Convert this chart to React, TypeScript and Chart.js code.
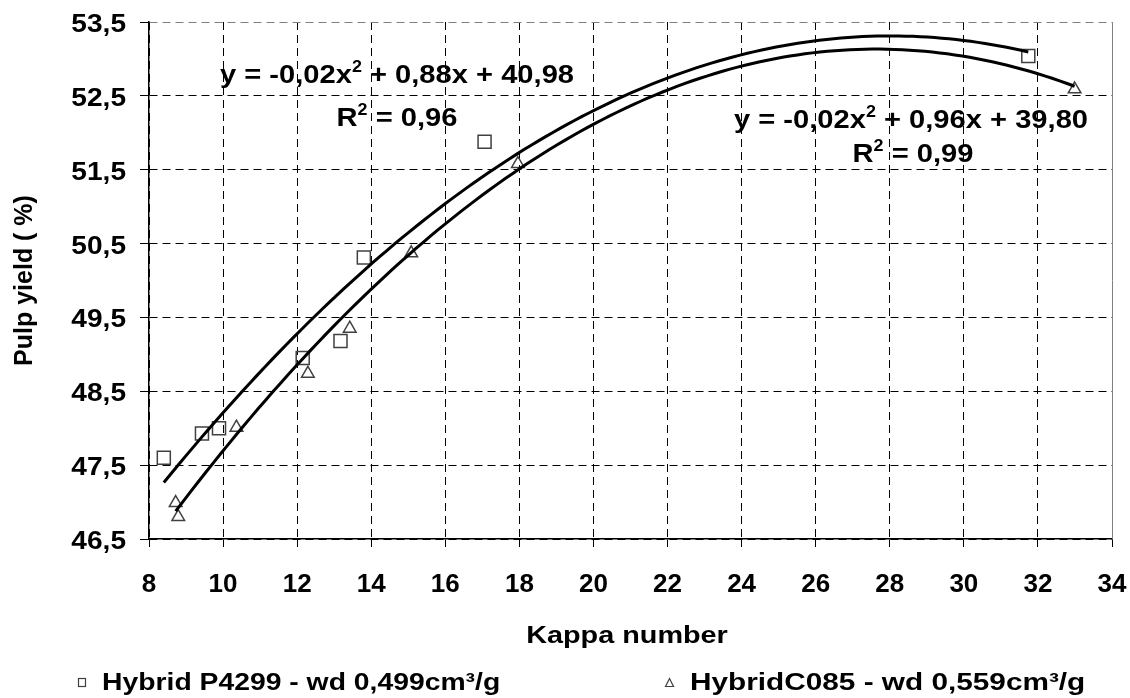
import React, { useEffect, useRef } from 'react';
import { Chart, registerables } from 'chart.js';

Chart.register(...registerables);

// ---- Data ----
const seriesNames = ['Hybrid P4299 - wd 0,499cm³/g', 'HybridC085 - wd 0,559cm³/g'];
const p4299Kappa = [8.4, 9.43, 9.89, 12.15, 13.17, 13.8, 17.06, 31.74];
const p4299Yield = [47.6, 47.93, 48.0, 48.95, 49.18, 50.31, 51.88, 53.04];
const c085Kappa = [8.72, 8.79, 10.36, 12.29, 13.42, 15.08, 17.96, 32.99];
const c085Yield = [46.99, 46.8, 48.01, 48.74, 49.35, 50.37, 51.58, 52.59];

// polynomial trendline coefficients [a, b, c] (y = a·x² + b·x + c)
const p4299Trend = [-0.0157, 0.88, 40.98];
const c085Trend = [-0.0175, 0.967, 39.775];

const xTickValues = [8, 10, 12, 14, 16, 18, 20, 22, 24, 26, 28, 30, 32, 34];
const xTickLabels = ['8', '10', '12', '14', '16', '18', '20', '22', '24', '26', '28', '30', '32', '34'];
const yTickValues = [46.5, 47.5, 48.5, 49.5, 50.5, 51.5, 52.5, 53.5];
const yTickLabels = ['46,5', '47,5', '48,5', '49,5', '50,5', '51,5', '52,5', '53,5'];

const eqP4299 = ['y = -0,02x', '2', ' + 0,88x + 40,98'];
const r2P4299 = ['R', '2', ' = 0,96'];
const eqC085 = ['y = -0,02x', '2', ' + 0,96x + 39,80'];
const r2C085 = ['R', '2', ' = 0,99'];

const xTitle = 'Kappa number';
const yTitle = 'Pulp yield ( %)';

function trendPoints(coef: number[], xs: number[]) {
  const [a, b, c] = coef;
  const lo = Math.min(...xs);
  const hi = Math.max(...xs);
  const n = 120;
  const pts: { x: number; y: number }[] = [];
  for (let i = 0; i <= n; i++) {
    const x = lo + ((hi - lo) * i) / n;
    pts.push({ x, y: a * x * x + b * x + c });
  }
  return pts;
}

const FONT = '"Liberation Sans", Arial, sans-serif';

function drawText(
  ctx: CanvasRenderingContext2D,
  text: string,
  x: number,
  y: number,
  align: CanvasTextAlign,
  font: string,
  sx: number
) {
  ctx.save();
  ctx.font = font;
  ctx.textAlign = align;
  ctx.textBaseline = 'alphabetic';
  ctx.fillStyle = '#000';
  ctx.translate(x, y);
  ctx.scale(sx, 1);
  ctx.fillText(text, 0, 0);
  ctx.restore();
}

const overlayPlugin = {
  id: 'overlay',
  afterDraw(chart: any) {
    const ctx = chart.ctx as CanvasRenderingContext2D;
    const area = chart.chartArea;
    const xs = chart.scales.x;
    const ys = chart.scales.y;
    ctx.save();
    // right plot border
    ctx.strokeStyle = '#808080';
    ctx.lineWidth = 1;
    ctx.setLineDash([]);
    ctx.beginPath();
    ctx.moveTo(area.right + 0.5, area.top);
    ctx.lineTo(area.right + 0.5, area.bottom);
    ctx.stroke();

    // tick labels
    const tickFont = `bold 26px ${FONT}`;
    yTickValues.forEach((v, i) => {
      drawText(ctx, yTickLabels[i], 126, ys.getPixelForValue(v) + 10, 'right', tickFont, 1.08);
    });
    xTickValues.forEach((v, i) => {
      drawText(ctx, xTickLabels[i], xs.getPixelForValue(v), 591.5, 'center', tickFont, 1.0);
    });

    // x axis title
    drawText(ctx, xTitle, 627, 643, 'center', `bold 24px ${FONT}`, 1.2);

    // trendline equations
    const drawParts = (parts: string[], cx: number, baseline: number) => {
      const sx = 1.12;
      const main = `bold 26px ${FONT}`;
      const sup = `bold 16px ${FONT}`;
      ctx.font = main;
      const w0 = ctx.measureText(parts[0]).width * sx;
      const w2 = ctx.measureText(parts[2]).width * sx;
      ctx.font = sup;
      const w1 = ctx.measureText(parts[1]).width * sx;
      const total = w0 + w1 + w2;
      let x = cx - total / 2;
      drawText(ctx, parts[0], x, baseline, 'left', main, sx);
      x += w0;
      drawText(ctx, parts[1], x, baseline - 11, 'left', sup, sx);
      x += w1;
      drawText(ctx, parts[2], x, baseline, 'left', main, sx);
    };
    drawParts(eqP4299, 397, 83);
    drawParts(r2P4299, 397, 126);
    drawParts(eqC085, 911, 128);
    drawParts(r2C085, 913, 162);

    // legend
    const legFont = `bold 24px ${FONT}`;
    ctx.strokeStyle = '#404040';
    ctx.lineWidth = 1.2;
    ctx.setLineDash([]);
    ctx.strokeRect(78.5, 678.5, 7, 8);
    drawText(ctx, seriesNames[0], 102, 690, 'left', legFont, 1.18);
    ctx.beginPath();
    ctx.moveTo(669.5, 678.5);
    ctx.lineTo(673.5, 686.5);
    ctx.lineTo(665.5, 686.5);
    ctx.closePath();
    ctx.stroke();
    drawText(ctx, seriesNames[1], 690, 690, 'left', legFont, 1.24);
    ctx.restore();
  },
};

export default function App() {
  const ref = useRef<HTMLCanvasElement | null>(null);
  useEffect(() => {
    if (!ref.current) return;
    const chart = new Chart(ref.current, {
      type: 'scatter',
      data: {
        datasets: [
          {
            label: seriesNames[0] + ' trend',
            data: trendPoints(p4299Trend, p4299Kappa),
            showLine: true,
            borderColor: '#000',
            borderWidth: 3,
            pointRadius: 0,
            tension: 0,
            order: 0,
          },
          {
            label: seriesNames[1] + ' trend',
            data: trendPoints(c085Trend, c085Kappa),
            showLine: true,
            borderColor: '#000',
            borderWidth: 3,
            pointRadius: 0,
            tension: 0,
            order: 0,
          },
          {
            label: seriesNames[0],
            data: p4299Kappa.map((x, i) => ({ x, y: p4299Yield[i] })),
            pointStyle: 'rect',
            pointRadius: 9.2,
            pointBorderColor: '#404040',
            pointBackgroundColor: 'rgba(0,0,0,0)',
            pointBorderWidth: 1.5,
            order: 1,
          },
          {
            label: seriesNames[1],
            data: c085Kappa.map((x, i) => ({ x, y: c085Yield[i] })),
            pointStyle: 'triangle',
            pointRadius: 7.3,
            pointBorderColor: '#404040',
            pointBackgroundColor: 'rgba(0,0,0,0)',
            pointBorderWidth: 1.5,
            order: 1,
          },
        ],
      },
      options: {
        animation: false,
        responsive: false,
        devicePixelRatio: 1,
        layout: { padding: { top: 22, right: 18, bottom: 48, left: 0 } },
        plugins: {
          legend: { display: false },
          tooltip: { enabled: false },
        },
        scales: {
          x: {
            type: 'linear',
            min: 8,
            max: 34,
            afterBuildTicks: (scale: any) => {
              scale.ticks = xTickValues.map((v) => ({ value: v }));
            },
            afterFit: (scale: any) => {
              scale.height = 111;
            },
            ticks: { display: false },
            grid: {
              color: (c: any) => (c.tick && c.tick.value === 34 ? 'rgba(0,0,0,0)' : '#000'),
              lineWidth: 1,
              tickLength: 8,
              tickColor: '#000',
              tickBorderDash: [],
            },
            border: { display: true, color: '#000', width: 1.5, dash: [8, 5] },
            title: { display: false },
          },
          y: {
            type: 'linear',
            min: 46.5,
            max: 53.5,
            afterBuildTicks: (scale: any) => {
              scale.ticks = yTickValues.map((v) => ({ value: v }));
            },
            afterFit: (scale: any) => {
              scale.width = 149;
            },
            ticks: { display: false },
            grid: {
              color: (c: any) => (c.tick && c.tick.value === 53.5 ? '#808080' : '#000'),
              lineWidth: 1,
              tickLength: 9,
              tickColor: '#000',
              tickBorderDash: [],
            },
            border: { display: true, color: '#000', width: 1.5, dash: [8, 5] },
            title: {
              display: true,
              text: yTitle,
              color: '#000',
              font: { family: FONT, size: 25, weight: 'bold' },
              padding: { top: 10, bottom: 0 },
            },
          },
        },
      } as any,
      plugins: [overlayPlugin],
    });
    return () => chart.destroy();
  }, []);

  return (
    <div style={{ position: 'fixed', left: 0, top: 0, width: 1130, height: 698, background: '#fff' }}>
      <canvas ref={ref} width={1130} height={698} style={{ width: 1130, height: 698 }} />
    </div>
  );
}
